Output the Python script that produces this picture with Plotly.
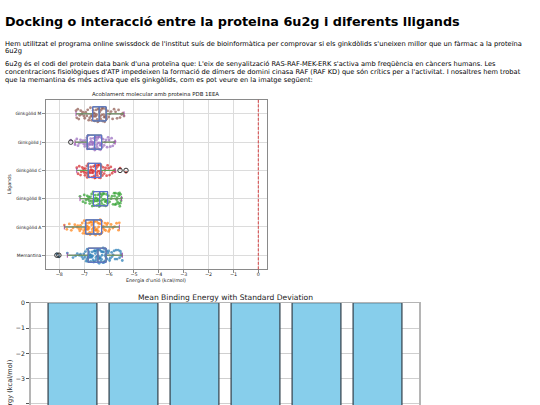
import numpy as np
import plotly.graph_objects as go

W, H = 540, 405

# --- text of the page ---
page_title = "Docking o interacció entre la proteina 6u2g i diferents lligands"
intro_lines = [
    "Hem utilitzat el programa online swissdock de l'institut suís de bioinformàtica per comprovar si els ginkdòlids s'uneixen millor que un fàrmac a la proteïna",
    "6u2g",
]
body_lines = [
    "6u2g és el codi del protein data bank d'una proteïna que: L'eix de senyalització RAS-RAF-MEK-ERK s'activa amb freqüència en càncers humans. Les",
    "concentracions fisiològiques d'ATP impedeixen la formació de dímers de domini cinasa RAF (RAF KD) que són crítics per a l'activitat. I nosaltres hem trobat",
    "que la memantina és més activa que els ginkgòlids, com es pot veure en la imatge següent:",
]

# --- docking energies (kcal/mol) ---
ligands = ["Memantina", "Ginkgòlid A", "Ginkgòlid B", "Ginkgòlid C", "Ginkgòlid J", "Ginkgòlid M"]

memantina = [-8.1, -8.02, -7.68, -7.45, -7.35, -7.28, -7.2, -7.15, -7.1, -7.05, -7.02, -6.98, -6.95,
             -6.92, -6.9, -6.88, -6.86, -6.85, -6.83, -6.82, -6.8, -6.78, -6.76, -6.74, -6.72, -6.7,
             -6.68, -6.66, -6.64, -6.62, -6.6, -6.58, -6.56, -6.55, -6.53, -6.52, -6.5, -6.48, -6.47,
             -6.45, -6.44, -6.43, -6.41, -6.4, -6.38, -6.37, -6.35, -6.34, -6.32, -6.3, -6.28, -6.27,
             -6.25, -6.24, -6.22, -6.2, -6.18, -6.17, -6.15, -6.14, -6.12, -6.1, -6.08, -6.05, -6.02,
             -5.98, -5.95, -5.9, -5.88, -5.84, -5.8, -5.76, -5.72, -5.68, -5.63, -5.58, -5.55, -5.52,
             -5.5, -5.47]
ginkgolid_a = [-7.8, -7.7, -7.6, -7.52, -7.45, -7.38, -7.3, -7.26, -7.22, -7.18, -7.15, -7.12, -7.08,
               -7.05, -7.02, -7.0, -6.98, -6.96, -6.95, -6.93, -6.92, -6.9, -6.88, -6.87, -6.85, -6.84,
               -6.82, -6.8, -6.78, -6.77, -6.75, -6.74, -6.72, -6.7, -6.68, -6.67, -6.65, -6.64, -6.62,
               -6.6, -6.58, -6.57, -6.55, -6.54, -6.52, -6.5, -6.48, -6.47, -6.45, -6.44, -6.42, -6.4,
               -6.38, -6.36, -6.34, -6.32, -6.3, -6.28, -6.26, -6.23, -6.2, -6.17, -6.14, -6.1, -6.06,
               -6.02, -5.98, -5.92, -5.85, -5.78, -5.7, -5.62, -5.59]
ginkgolid_b = [-7.17, -7.05, -7.0, -6.95, -6.92, -6.88, -6.85, -6.82, -6.8, -6.78, -6.75, -6.72, -6.7,
               -6.68, -6.66, -6.64, -6.63, -6.61, -6.6, -6.58, -6.56, -6.54, -6.52, -6.5, -6.48, -6.46,
               -6.45, -6.43, -6.42, -6.4, -6.38, -6.36, -6.35, -6.33, -6.32, -6.3, -6.28, -6.26, -6.24,
               -6.22, -6.2, -6.18, -6.16, -6.14, -6.12, -6.1, -6.08, -6.06, -6.03, -5.98, -5.92, -5.88,
               -5.84, -5.8, -5.78, -5.76, -5.74, -5.72, -5.7, -5.68, -5.66, -5.64, -5.62, -5.6, -5.58,
               -5.57, -5.55, -5.54, -5.52, -5.5]
ginkgolid_c = [-7.3, -7.25, -7.2, -7.15, -7.12, -7.08, -7.05, -7.02, -7.0, -6.97, -6.95, -6.92, -6.9,
               -6.88, -6.86, -6.84, -6.82, -6.8, -6.78, -6.76, -6.74, -6.72, -6.7, -6.68, -6.67, -6.65,
               -6.63, -6.62, -6.6, -6.58, -6.57, -6.55, -6.54, -6.52, -6.5, -6.48, -6.47, -6.45, -6.44,
               -6.42, -6.4, -6.38, -6.37, -6.35, -6.34, -6.32, -6.3, -6.27, -6.24, -6.2, -6.17, -6.14,
               -6.1, -6.06, -6.02, -5.98, -5.93, -5.88, -5.83, -5.78, -5.76, -5.56, -5.32]
ginkgolid_j = [-7.54, -7.37, -7.3, -7.25, -7.2, -7.15, -7.1, -7.05, -7.02, -6.98, -6.95, -6.92, -6.9,
               -6.88, -6.86, -6.84, -6.82, -6.8, -6.78, -6.76, -6.74, -6.72, -6.7, -6.68, -6.66, -6.65,
               -6.63, -6.62, -6.6, -6.58, -6.56, -6.55, -6.53, -6.52, -6.5, -6.48, -6.46, -6.45, -6.43,
               -6.42, -6.4, -6.38, -6.36, -6.35, -6.33, -6.32, -6.3, -6.27, -6.24, -6.2, -6.16, -6.12,
               -6.08, -6.04, -6.0, -5.95, -5.9, -5.85, -5.8, -5.76]
ginkgolid_m = [-7.33, -7.3, -7.26, -7.22, -7.18, -7.14, -7.1, -7.06, -7.02, -6.98, -6.94, -6.9, -6.86,
               -6.82, -6.78, -6.75, -6.72, -6.7, -6.68, -6.66, -6.64, -6.62, -6.6, -6.58, -6.56, -6.54,
               -6.52, -6.5, -6.48, -6.46, -6.44, -6.42, -6.4, -6.38, -6.36, -6.34, -6.32, -6.3, -6.28,
               -6.26, -6.24, -6.22, -6.2, -6.18, -6.16, -6.14, -6.12, -6.1, -6.06, -6.02, -5.97, -5.92,
               -5.86, -5.8, -5.74, -5.68, -5.62, -5.56, -5.5, -5.45, -5.4]
energies = [memantina, ginkgolid_a, ginkgolid_b, ginkgolid_c, ginkgolid_j, ginkgolid_m]

# box statistics as drawn in the picture
box_q1 = [-6.84, -6.94, -6.63, -6.84, -6.88, -6.66]
box_median = [-6.45, -6.62, -6.38, -6.55, -6.58, -6.40]
box_q3 = [-6.12, -6.30, -6.06, -6.33, -6.30, -6.12]
whisker_low = [-7.68, -7.80, -7.17, -7.30, -7.37, -7.33]
whisker_high = [-5.47, -5.59, -5.50, -5.76, -5.76, -5.40]

flier_ligands = ["Memantina", "Memantina", "Ginkgòlid J", "Ginkgòlid C", "Ginkgòlid C"]
flier_values = [-8.1, -8.02, -7.54, -5.56, -5.32]

reference_energy = 0

point_colors = ["#1f77b4", "#ff7f0e", "#2ca02c", "#d62728", "#9467bd", "#8c564b"]

# mean / std per ligand for the bar chart
bar_means = [float(np.mean(v)) for v in energies]
bar_stds = [float(np.std(v)) for v in energies]

FONT = "DejaVu Sans"


def fx(p):
    return p / W


def fy(p):
    return 1 - p / H


fig = go.Figure()

# punts (stripplot)
for name, vals, col in zip(ligands, energies, point_colors):
    fig.add_trace(go.Box(
        x=vals, y=[name] * len(vals), orientation="h",
        boxpoints="all", jitter=1, pointpos=0, width=0.6,
        fillcolor="rgba(0,0,0,0)", line=dict(color="rgba(0,0,0,0)", width=0),
        marker=dict(color=col, size=2.8, opacity=0.7),
        showlegend=False, hoverinfo="skip", xaxis="x", yaxis="y",
    ))

# caps (purple), whiskers (green), boxes (blue)
box_common = dict(y=ligands, orientation="h", q1=box_q1, median=box_median, q3=box_q3,
                  width=0.5, boxpoints=False, fillcolor="rgba(0,0,0,0)",
                  showlegend=False, hoverinfo="skip", xaxis="x", yaxis="y")
fig.add_trace(go.Box(lowerfence=whisker_low, upperfence=whisker_high, whiskerwidth=0.35,
                     line=dict(color="#a34aa8", width=1), **box_common))
fig.add_trace(go.Box(lowerfence=whisker_low, upperfence=whisker_high, whiskerwidth=0,
                     line=dict(color="#5aa84a", width=1), **box_common))
fig.add_trace(go.Box(lowerfence=box_q1, upperfence=box_q3, whiskerwidth=0,
                     line=dict(color="#5a6ee0", width=1), **box_common))

fig.add_trace(go.Scatter(
    x=flier_values, y=flier_ligands, mode="markers",
    marker=dict(symbol="circle-open", color="#333333", size=4.5, line=dict(width=1)),
    showlegend=False, hoverinfo="skip", xaxis="x", yaxis="y",
))

# bar chart
fig.add_trace(go.Bar(
    x=ligands, y=bar_means, width=0.8,
    error_y=dict(type="data", array=bar_stds, color="#333", thickness=1, width=3),
    marker=dict(color="#87CEEB", line=dict(color="#3a4a55", width=1.3)),
    showlegend=False, hoverinfo="skip", xaxis="x2", yaxis="y2",
))

fig.add_shape(type="line", xref="x", yref="y domain", x0=reference_energy, x1=reference_energy,
              y0=0, y1=1, line=dict(color="rgba(214,39,40,0.85)", width=1, dash="3px,1.5px"))

annotations = [
    dict(text=f"<b>{page_title}</b>", x=fx(2.5), y=fy(18), xanchor="left", yanchor="middle",
         font=dict(size=12.8, color="black")),
]
for i, line in enumerate(intro_lines):
    annotations.append(dict(text=line, x=fx(3), y=fy(40 + i * 7.8), xanchor="left", yanchor="middle",
                            font=dict(size=6.7, color="black")))
for i, line in enumerate(body_lines):
    annotations.append(dict(text=line, x=fx(3), y=fy(61 + i * 7.8), xanchor="left", yanchor="middle",
                            font=dict(size=6.65, color="black")))
annotations += [
    dict(text="Acoblament molecular amb proteina PDB 1EEA", x=fx(156), y=fy(91.5),
         xanchor="center", yanchor="middle", font=dict(size=5.4, color="#222")),
    dict(text="Energia d'unió (kcal/mol)", x=fx(156), y=fy(279.5),
         xanchor="center", yanchor="middle", font=dict(size=4.8, color="#222")),
    dict(text="Lligands", x=fx(9), y=fy(182), textangle=-90,
         xanchor="center", yanchor="middle", font=dict(size=4.8, color="#222")),
    dict(text="Mean Binding Energy with Standard Deviation", x=fx(225), y=fy(296),
         xanchor="center", yanchor="middle", font=dict(size=7.6, color="#222")),
    dict(text="Binding Energy (kcal/mol)", x=fx(10), y=fy(358), textangle=-90,
         xanchor="center", yanchor="top", font=dict(size=6.6, color="#222")),
]
for a in annotations:
    a.update(xref="paper", yref="paper", showarrow=False)

fig.update_layout(
    width=W, height=H,
    margin=dict(l=0, r=0, t=0, b=0),
    paper_bgcolor="white", plot_bgcolor="white",
    font=dict(family=FONT, color="#222"),
    boxmode="overlay", boxgap=0, boxgroupgap=0,
    annotations=annotations,
    xaxis=dict(domain=[fx(45.7), fx(266.5)], range=[-8.55, 0.33], tickvals=list(range(-8, 1)),
               showgrid=True, gridcolor="#dcdcdc", gridwidth=1, zeroline=False,
               showline=True, mirror=True, linecolor="#8a8a8a", linewidth=1,
               ticks="outside", ticklen=2.5, tickcolor="#8a8a8a", tickfont=dict(size=4.8),
               ticklabelstandoff=-3, anchor="y"),
    yaxis=dict(domain=[fy(268), fy(96.7)], range=[-0.5, 5.5], categoryorder="array",
               categoryarray=ligands, showgrid=True, gridcolor="#dcdcdc", zeroline=False,
               showline=True, mirror=True, linecolor="#8a8a8a", linewidth=1,
               ticks="outside", ticklen=2.5, tickcolor="#8a8a8a", tickfont=dict(size=4.4),
               anchor="x"),
    xaxis2=dict(domain=[fx(31), fx(419)], range=[-0.68, 5.68], showgrid=False,
                showticklabels=False,
                showline=True, mirror=True, linecolor="#b5b5b5", linewidth=1, anchor="y2"),
    yaxis2=dict(domain=[0, fy(301.7)], range=[-4.04, 0], dtick=1, showgrid=True,
                gridcolor="#cfcfcf", zeroline=False, showline=True, mirror=True,
                linecolor="#b5b5b5", linewidth=1.6, ticks="outside", ticklen=3,
                tickcolor="#555", tickfont=dict(size=6.2), anchor="x2"),
)

# the page body has a default 8px margin; remove it so the figure fills the window
fig.write_html("out.html", config={"displayModeBar": False},
               post_script="document.body.style.margin='0';")
